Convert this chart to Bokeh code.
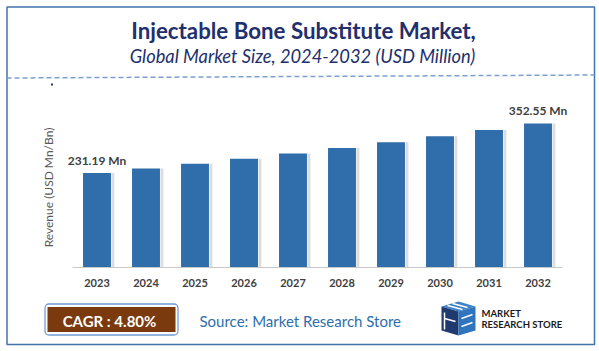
import math
from bokeh.plotting import figure
from bokeh.models import Range1d
from bokeh.core.properties import value
from bokeh.embed import file_html
from bokeh.resources import INLINE

# ---------------- data ----------------
years = ["2023", "2024", "2025", "2026", "2027", "2028", "2029", "2030", "2031", "2032"]
revenue = [231.19, 242.3, 253.9, 266.1, 278.9, 292.3, 306.3, 321.0, 336.4, 352.55]
value_labels = ["231.19 Mn", "", "", "", "", "", "", "", "", "352.55 Mn"]
title_text = "Injectable Bone Substitute Market,"
subtitle_text = "Global Market Size, 2024-2032 (USD Million)"
y_axis_title = "Revenue (USD Mn/Bn)"
cagr_text = "CAGR : 4.80%"
source_text = "Source: Market Research Store"
logo_lines = ["MARKET", "RESEARCH STORE"]

# ---------------- layout (page pixels, y downwards) ----------------
W, H = 599, 351
PL, PR, PB = 72, 562, 267          # plot area left / right / baseline
PT = 107                            # reference height for the value scale
YMAX = 391.4                        # value shown at PT
n = len(years)
STEP = (PR - PL) / n
K = YMAX / (PB - PT)                # value units per pixel
FONT = "Lato"

idx = list(range(n))

p = figure(width=W, height=H, x_range=Range1d(0, W), y_range=Range1d(H, 0),
           output_backend="svg", toolbar_location=None, min_border=0,
           x_axis_location=None, y_axis_location=None)
p.extra_x_ranges = {"bars": Range1d(-0.5 - PL / STEP, -0.5 + (W - PL) / STEP)}
p.extra_y_ranges = {"val": Range1d(-(H - PB) * K, PB * K)}
p.background_fill_color = "white"
p.border_fill_color = "white"
p.outline_line_color = None
p.grid.visible = False


def txt(x, y, t, size, color, style="normal", align="center", **kw):
    p.text(x=x, y=y, text=t, text_align=align, text_baseline="middle",
           text_font=value(FONT), text_font_size=value(size),
           text_font_style=value(style), text_color=color, **kw)


# ---- outer border ----
p.quad(left=[6.5], right=[594], top=[6.5], bottom=[344], fill_color=None,
       line_color="#3f74ab", line_width=1.5)

# ---- title ----
txt([303], [29.5], [title_text], "22.3px", "#222f6c", "bold")
txt([302], [55.5], [subtitle_text], "18.3px", "#222f6c", "italic")

# dashed separator and dot
p.line(x=[6, 594], y=[77.5, 74.5], line_color="#7c9fd8", line_width=1.5, line_dash="5 3")
p.quad(left=[50.5], right=[52.5], top=[83], bottom=[85], fill_color="#1f3c6e", line_color=None)

# ---- bars ----
p.vbar(x=[i + 0.325 for i in idx], top=revenue, width=0.06, bottom=0,
       fill_color="#cfcfcf", fill_alpha=0.7, line_color=None,
       x_range_name="bars", y_range_name="val")
p.vbar(x=idx, top=revenue, width=0.57, bottom=0, fill_color="#2f6eaa", line_color=None,
       x_range_name="bars", y_range_name="val")

# axis line
p.segment(x0=[-0.5], x1=[n - 0.5], y0=[0], y1=[0], line_color="#c9c9c9", line_width=1,
          x_range_name="bars", y_range_name="val")

# tick labels
txt(idx, [282.5] * n, years, "11px", "#404040", "bold", x_range_name="bars")

# value labels
txt(idx, revenue, value_labels, "12px", "#404040", "bold", y_offset=-12.5,
    x_range_name="bars", y_range_name="val")

# y axis title
txt([48], [187], [y_axis_title], "12px", "#595959", angle=math.pi / 2)

# ---- CAGR box ----
p.quad(left=[44.5], right=[177.5], top=[303.5], bottom=[334.5], fill_color="white",
       line_color="#6f9bd6", line_width=1.3, border_radius=4)
p.quad(left=[47], right=[175], top=[306.5], bottom=[331.5], fill_color="#7a3a0d",
       line_color=None)
txt([109], [320], [cagr_text], "15px", "white", "bold")

# ---- source ----
txt([199], [320], [source_text], "15px", "#2e6eab", align="left")

# ---- logo ----
faces_x = [[441, 458, 475, 458], [441, 458, 458, 441], [458, 475, 475, 458]]
faces_y = [[306, 301, 306, 311], [306, 311, 335, 330], [311, 306, 330, 335]]
p.patches(xs=faces_x, ys=faces_y, fill_color=["#3d82c8", "#1e3a6e", "#2f74bd"],
          line_color=None)
strokes = [((447, 462), (305, 309)), ((452, 467), (303, 307)), ((444, 455), (318, 321)),
           ((461, 472), (318, 314)), ((461, 472), (326, 322)), ((444, 444), (312, 329))]
p.multi_line(xs=[list(a) for a, b in strokes], ys=[list(b) for a, b in strokes],
             line_color="white", line_width=1.5)
txt([481, 481], [312.5, 323.5], logo_lines, "9.5px", "#1a1a1a", "bold", align="left")

open("out.html", "w").write(file_html(p, INLINE))
